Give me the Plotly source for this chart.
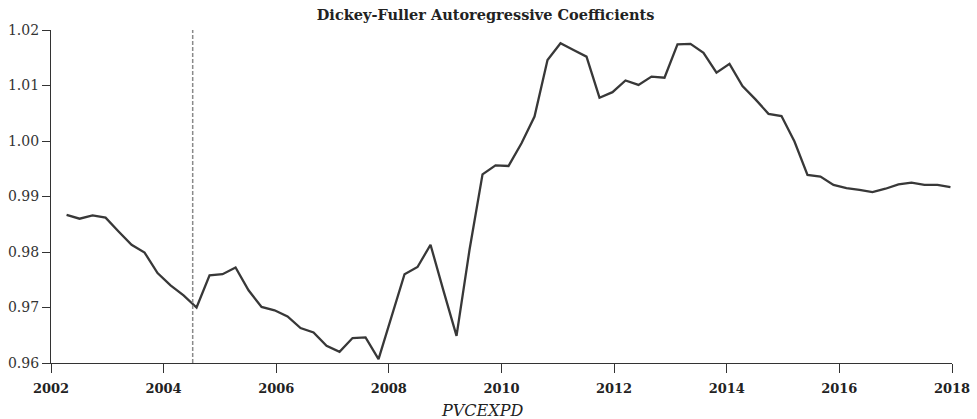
import pandas as pd
import plotly.graph_objects as go

# Rolling Dickey-Fuller autoregressive coefficient estimates for PVCEXPD
obs_start = "2002-04-12"
obs_end = "2017-12-22"
coefficients = [
    0.9867, 0.9860, 0.9866, 0.9862, 0.9837, 0.9813, 0.9799, 0.9762, 0.9740, 0.9722,
    0.9700, 0.9758, 0.9760, 0.9772, 0.9731, 0.9701, 0.9695, 0.9684, 0.9663, 0.9655,
    0.9631, 0.9620, 0.9645, 0.9646, 0.9607, 0.9685, 0.9760, 0.9773, 0.9813, 0.9730,
    0.9649, 0.9804, 0.9940, 0.9956, 0.9955, 0.9996, 1.0044, 1.0146, 1.0176, 1.0164,
    1.0152, 1.0078, 1.0088, 1.0109, 1.0101, 1.0116, 1.0114, 1.0174, 1.0175, 1.0159,
    1.0123, 1.0139, 1.0099, 1.0075, 1.0049, 1.0045, 0.9999, 0.9939, 0.9936, 0.9921,
    0.9915, 0.9912, 0.9908, 0.9914, 0.9922, 0.9925, 0.9921, 0.9921, 0.9917,
]
dates = pd.date_range(obs_start, obs_end, periods=len(coefficients))

break_date = "2004-07-08"
x_ticks = ["2002", "2004", "2006", "2008", "2010", "2012", "2014", "2016", "2018"]
y_ticks = [0.96, 0.97, 0.98, 0.99, 1.00, 1.01, 1.02]

serif = "DejaVu Serif"
ink = "#333333"

fig = go.Figure()
fig.add_trace(go.Scatter(
    x=dates, y=coefficients, mode="lines",
    line=dict(color="#383838", width=2.3),
    hoverinfo="skip", showlegend=False,
))

# vertical marker for the structural break
fig.add_shape(
    type="line", xref="x", yref="paper",
    x0=break_date, x1=break_date, y0=0, y1=1,
    line=dict(color="#8a8a8a", width=1.5, dash="4px,2px"),
)

fig.update_layout(
    width=977, height=419,
    margin=dict(l=51, r=25, t=30, b=56),
    paper_bgcolor="white", plot_bgcolor="white",
    title=dict(
        text="<b>Dickey-Fuller Autoregressive Coefficients</b>",
        font=dict(family=serif, size=14.5, color="#222222"),
        x=0.497, xanchor="center", xref="container",
        y=0.964, yanchor="middle",
    ),
    xaxis=dict(
        type="date",
        range=["2002-01-01", "2018-01-01"],
        tickvals=[f"{t}-01-01" for t in x_ticks],
        ticktext=[f"<b>{t}</b>" for t in x_ticks],
        ticks="outside", ticklen=9, tickwidth=1.3, tickcolor=ink,
        ticklabelstandoff=4,
        showline=True, linecolor=ink, linewidth=1.3,
        showgrid=False, zeroline=False, automargin=False,
        tickfont=dict(family=serif, size=13, color="#222222"),
    ),
    yaxis=dict(
        range=[0.96, 1.02],
        tickvals=y_ticks,
        tickformat=".2f",
        ticks="outside", ticklen=8, tickwidth=1.3, tickcolor=ink,
        showline=True, linecolor=ink, linewidth=1.3,
        showgrid=False, zeroline=False, automargin=False,
        tickfont=dict(family=serif, size=14, color="#333333"),
    ),
    annotations=[dict(
        text="<i>PVCEXPD</i>", xref="paper", yref="paper",
        x=0.478, y=-0.142, xanchor="center", yanchor="middle",
        showarrow=False,
        font=dict(family=serif, size=16, color="#222222"),
    )],
)

fig.write_html("out.html")
